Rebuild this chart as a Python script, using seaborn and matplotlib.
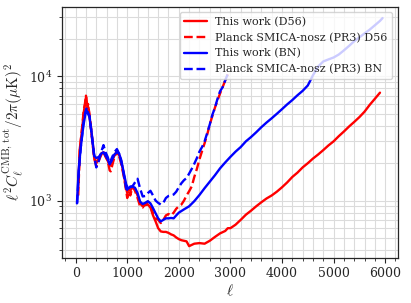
import matplotlib
matplotlib.use("Agg")
import matplotlib.pyplot as plt
import matplotlib.ticker as mticker
import numpy as np
import pandas as pd
import seaborn as sns

# multipoles and band powers
ell_d56_this = [50, 80, 120, 160, 190, 205, 225, 250, 280, 320, 360, 400, 450, 500, 540, 580,
                620, 660, 700, 750, 800, 840, 880, 930, 980, 1000, 1020, 1060, 1100, 1150, 1200,
                1250, 1300, 1350, 1400, 1450, 1500, 1550, 1600, 1650, 1700, 1750, 1800, 1850,
                1900, 1950, 2000, 2050, 2100, 2150, 2200, 2250, 2300, 2400, 2500, 2600, 2700,
                2800, 2900, 2950, 3000, 3100, 3200, 3300, 3400, 3500, 3600, 3700, 3800, 3900,
                4000, 4100, 4200, 4300, 4400, 4500, 4600, 4700, 4800, 4900, 5000, 5100, 5200,
                5300, 5400, 5500, 5600, 5700, 5800, 5900]
cl_d56_this = [1300, 2600, 3600, 5200, 6500, 6800, 5800, 5600, 4300, 3200, 2200, 2000, 2200,
               2400, 2450, 2250, 2100, 1900, 2050, 2300, 2400, 2350, 2100, 1650, 1250, 1150,
               1250, 1200, 1280, 1250, 1100, 950, 900, 920, 930, 880, 760, 680, 600, 565, 560,
               560, 550, 535, 525, 505, 490, 480, 475, 470, 430, 440, 450, 455, 450, 475, 510,
               545, 570, 600, 600, 640, 700, 770, 830, 900, 970, 1040, 1100, 1180, 1280, 1400,
               1550, 1680, 1850, 2000, 2180, 2350, 2550, 2780, 3000, 3300, 3600, 3950, 4300,
               4700, 5200, 5900, 6600, 7400]

ell_d56_planck = [50, 80, 120, 160, 185, 200, 215, 240, 260, 290, 330, 370, 400, 430, 470, 510,
                  540, 580, 620, 660, 680, 720, 760, 800, 840, 880, 930, 980, 1000, 1030, 1060,
                  1100, 1150, 1200, 1250, 1300, 1350, 1400, 1450, 1500, 1550, 1600, 1650, 1700,
                  1750, 1800, 1850, 1900, 1950, 2000, 2050, 2100, 2150, 2200, 2250, 2300, 2350,
                  2400, 2450, 2500, 2550, 2600, 2650, 2700, 2750, 2800, 2850, 2900, 2950]
cl_d56_planck = [1100, 2500, 3700, 5500, 6000, 7000, 5400, 6000, 5200, 4200, 2800, 2100, 1900,
                 2000, 2200, 2400, 2500, 2300, 2100, 1750, 1720, 2000, 2300, 2550, 2300, 2000,
                 1600, 1200, 1050, 1200, 1100, 1300, 1200, 1050, 900, 880, 950, 970, 920, 790,
                 720, 700, 660, 700, 760, 780, 760, 800, 860, 900, 930, 1000, 1100, 1190, 1300,
                 1550, 1800, 2150, 2500, 2900, 3400, 4100, 4800, 5600, 6400, 7300, 8200, 9300,
                 10400]

ell_bn_this = [25, 60, 100, 150, 190, 215, 240, 270, 310, 360, 400, 450, 500, 540, 580, 620,
               660, 700, 750, 800, 840, 880, 930, 980, 1020, 1060, 1100, 1150, 1200, 1250, 1300,
               1350, 1400, 1450, 1500, 1550, 1600, 1650, 1700, 1750, 1800, 1850, 1900, 1950,
               2000, 2100, 2200, 2300, 2400, 2500, 2600, 2700, 2800, 2900, 3000, 3100, 3200,
               3300, 3400, 3500, 3600, 3700, 3800, 3900, 4000, 4100, 4200, 4300, 4400, 4500,
               4600, 4700, 4800, 4900, 5000, 5100, 5200, 5300, 5400, 5500, 5600, 5700, 5800,
               5900, 5950]
cl_bn_this = [950, 1800, 2700, 4000, 5000, 5300, 5000, 4700, 3500, 2300, 2200, 2250, 2400,
              2450, 2300, 2150, 1960, 2100, 2350, 2450, 2400, 2150, 1700, 1350, 1250, 1280,
              1300, 1270, 1150, 980, 940, 960, 990, 950, 870, 790, 720, 680, 700, 720, 720,
              725, 720, 760, 800, 850, 900, 990, 1110, 1260, 1420, 1600, 1820, 2030, 2250,
              2480, 2700, 3000, 3250, 3550, 3900, 4250, 4600, 5000, 5450, 5950, 6450, 7050,
              7650, 8450, 10200, 12000, 13200, 13700, 14200, 15000, 16200, 17600, 19200,
              20600, 22200, 23800, 25800, 28000, 29500]

ell_bn_planck = [30, 60, 100, 150, 190, 215, 240, 270, 310, 360, 400, 450, 500, 540, 580, 620,
                 660, 700, 750, 800, 840, 880, 930, 980, 1020, 1060, 1100, 1150, 1200, 1250,
                 1300, 1350, 1400, 1450, 1500, 1550, 1600, 1650, 1700, 1750, 1800, 1850, 1900,
                 1950, 2000, 2050, 2100, 2150, 2200, 2250, 2300, 2350, 2400, 2450, 2500, 2550,
                 2600, 2650, 2700, 2750, 2800, 2850, 2900, 2950]
cl_bn_planck = [950, 1700, 2700, 4200, 5200, 5600, 5100, 4800, 3400, 2300, 1850, 2100, 2500,
                2800, 2450, 2250, 2000, 2200, 2450, 2600, 2400, 2100, 1650, 1250, 1200, 1300,
                1300, 1400, 1500, 1250, 1080, 1090, 1150, 1200, 1100, 1000, 960, 930, 960,
                1050, 1090, 1100, 1120, 1180, 1280, 1380, 1460, 1520, 1650, 1800, 1980, 2200,
                2480, 2700, 3000, 3500, 4100, 4900, 5600, 6600, 7600, 8200, 9300, 10500]

sns.set_style("ticks")
plt.rcParams['font.family'] = ['DejaVu Serif']
plt.rcParams['mathtext.fontset'] = 'cm'

fig, ax = plt.subplots(figsize=(4.11, 3.03), dpi=100)
fig.subplots_adjust(left=0.150, right=0.968, top=0.978, bottom=0.150)

lw = 1.7
sns.lineplot(x=ell_d56_this, y=cl_d56_this, color='red', lw=lw, ax=ax, label='This work (D56)')
sns.lineplot(x=ell_d56_planck, y=cl_d56_planck, color='red', lw=lw, ls='--', ax=ax,
             label='Planck SMICA-nosz (PR3) D56')
sns.lineplot(x=ell_bn_this, y=cl_bn_this, color='blue', lw=lw, ax=ax, label='This work (BN)')
sns.lineplot(x=ell_bn_planck, y=cl_bn_planck, color='blue', lw=lw, ls='--', ax=ax,
             label='Planck SMICA-nosz (PR3) BN')

ax.set_yscale('log')
ax.xaxis.set_minor_locator(mticker.AutoMinorLocator(5))
ax.grid(which='both', color='0.86', lw=0.8)
ax.set_axisbelow(True)
ax.tick_params(which='major', labelsize=9, length=3.5, width=0.8)
ax.tick_params(which='minor', length=2, width=0.6)
for s in ax.spines.values():
    s.set_linewidth(0.9)
    s.set_color('0.15')

ax.set_xlabel(r'$\ell$', fontsize=11, labelpad=2)
ax.set_ylabel(r'$\ell^2 C_\ell^{\rm CMB,\,tot}/2\pi(\mu{\rm K})^2$', fontsize=11, labelpad=2)
ax.legend(loc='upper right', fontsize=8, framealpha=0.8)

fig.savefig('out.png', dpi=100)
